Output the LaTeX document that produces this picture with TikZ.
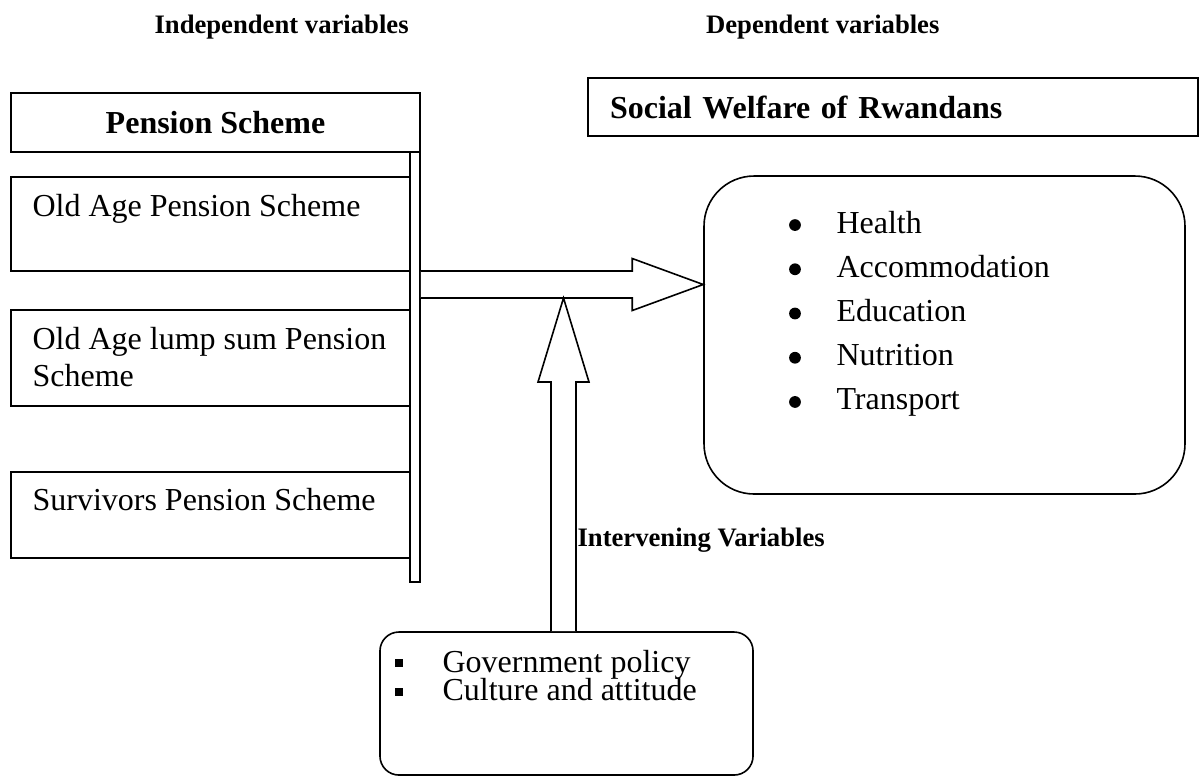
\documentclass[tikz,border=0pt]{standalone}
\usepackage{fontspec}
\setmainfont{Liberation Serif}
\usetikzlibrary{calc}

\begin{document}
\begin{tikzpicture}[
    plainbox/.style={draw, line width=0.6pt, inner sep=0pt},
    bodytext/.style={font=\fontsize{12}{13.8}\selectfont, inner sep=0pt},
    headtext/.style={font=\fontsize{10}{12}\selectfont\bfseries, inner sep=0pt},
    blockarrow/.style={draw, line width=0.6pt, fill=white, line join=miter},
    dotbullet/.style={circle, fill, minimum size=0.155cm, inner sep=0pt},
    sqbullet/.style={fill, minimum size=0.11cm, inner sep=0pt}
  ]
    \useasboundingbox (0,0) rectangle (15.829,10.228);

    % headings
    \node[headtext, anchor=base west] (indep) at (2.030,9.793) {Independent variables};
    \node[headtext, anchor=base east] (dep) at (12.389,9.793) {Dependent variables};

    % left column
    \node[plainbox, font=\fontsize{12}{13.8}\selectfont\bfseries, minimum width=5.391cm, minimum height=0.778cm] (pension) at (2.8405,8.613) {Pension Scheme};
    \node[plainbox, minimum width=0.132cm, minimum height=5.667cm] (bar) at (5.470,5.3905) {};

    \node[plainbox, minimum width=5.259cm, minimum height=1.239cm] (oldage) at (2.7745,7.2755) {};
    \node[plainbox, minimum width=5.259cm, minimum height=1.265cm] (lumpsum) at (2.7745,5.5095) {};
    \node[plainbox, minimum width=5.259cm, minimum height=1.134cm] (survivors) at (2.7745,3.440) {};

    \node[bodytext, anchor=base west] (oldagetxt) at (0.422,7.368) {Old Age Pension Scheme};
    \node[bodytext, anchor=base west, align=left] (lumpsumtxt) at (0.422,5.140) {Old Age lump sum Pension\\Scheme};
    \node[bodytext, anchor=base west] (survivorstxt) at (0.422,3.506) {Survivors Pension Scheme};

    % right column
    \node[plainbox, line width=0.8pt, font=\fontsize{12}{13.8}\selectfont\bfseries, inner xsep=0.29cm, text width=7.46cm, align=left, minimum height=0.765cm] (socwel) at (11.770,8.8175) {Social Welfare of Rwandans};
    \node[plainbox, rounded corners=0.66cm, minimum width=6.339cm, minimum height=4.191cm] (welfare) at (12.4485,5.8125) {};

    \foreach \txt [count=\i from 0] in {Health, Accommodation, Education, Nutrition, Transport} {
      \node[dotbullet] (wb\i) at (10.478,{7.262-0.583*\i}) {};
      \node[bodytext, anchor=base west] (wi\i) at (11.018,{7.157-0.583*\i}) {\txt};
    }

    % intervening box
    \node[plainbox, rounded corners=0.25cm, minimum width=4.917cm, minimum height=1.885cm] (factors) at (7.4665,0.9555) {};
    \node[sqbullet] (gb) at (5.259,1.490) {};
    \node[bodytext, anchor=base west] (govtxt) at (5.826,1.371) {Government policy};
    \node[sqbullet] (cb) at (5.259,1.108) {};
    \node[bodytext, anchor=base west] (culttxt) at (5.826,0.989) {Culture and attitude};

    \node[headtext, anchor=base west] (interv) at (7.605,3.031) {Intervening Variables};

    % block arrows
    \coordinate (htail) at (bar.east |- 0,6.478);
    \coordinate (htip) at (welfare.west |- htail);
    \draw[blockarrow] ($(htail)+(0,0.178)$) -- ($(htip)+(-0.936,0.178)$) -- ($(htip)+(-0.936,0.343)$) -- (htip)
      -- ($(htip)+(-0.936,-0.343)$) -- ($(htip)+(-0.936,-0.178)$) -- ($(htail)+(0,-0.178)$);

    \coordinate (vtail) at (7.427,0 |- factors.north);
    \coordinate (vtip) at ($(vtail |- htail)+(0,-0.178)$);
    \draw[blockarrow] ($(vtail)+(-0.165,0)$) -- ($(vtip)+(-0.165,-1.107)$) -- ($(vtip)+(-0.336,-1.107)$) -- (vtip)
      -- ($(vtip)+(0.336,-1.107)$) -- ($(vtip)+(0.165,-1.107)$) -- ($(vtail)+(0.165,0)$);
  \end{tikzpicture}
\end{document}
